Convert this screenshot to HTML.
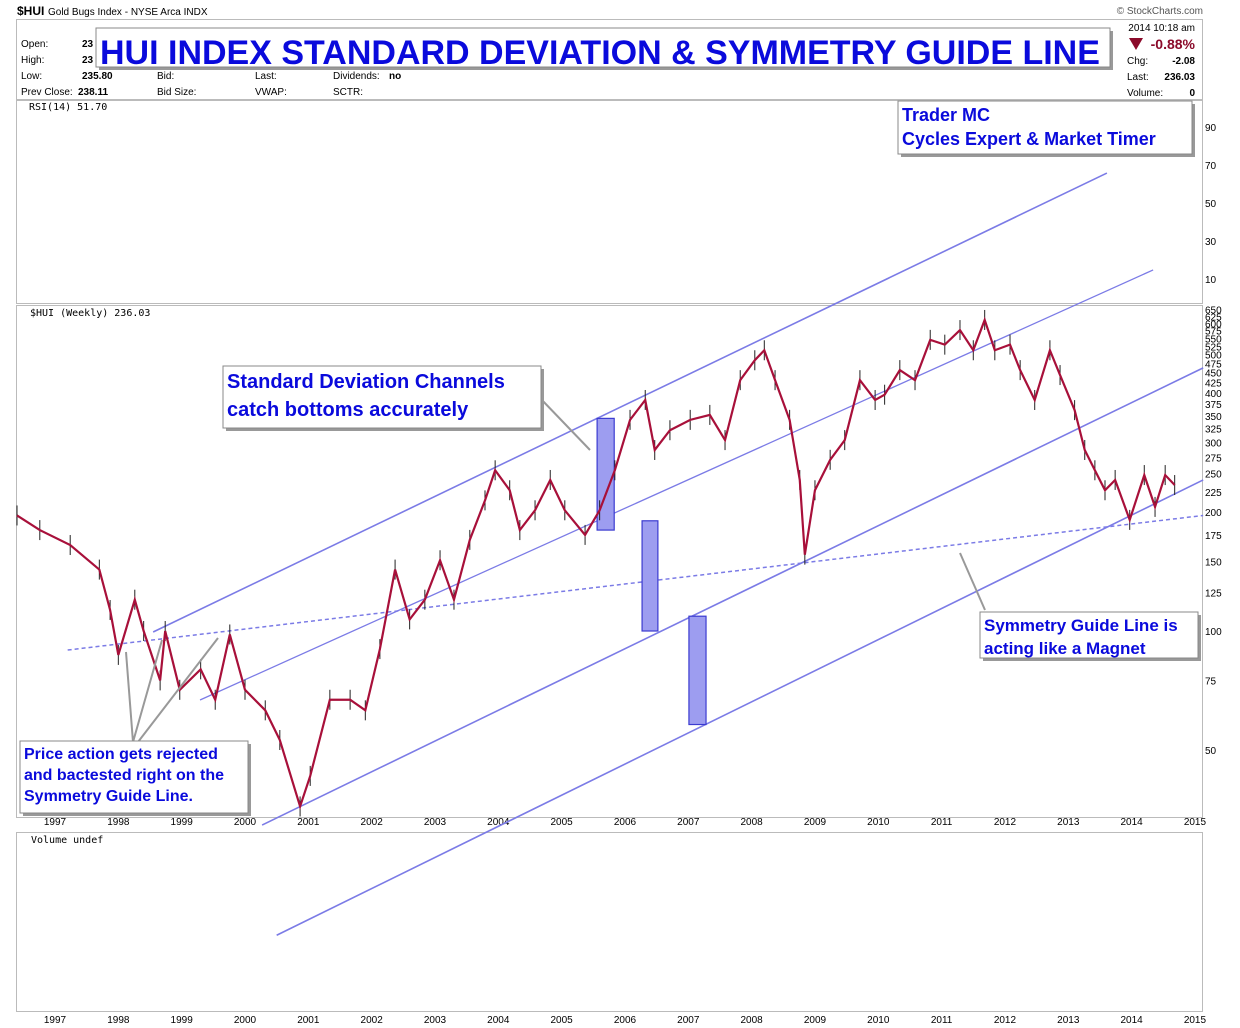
<!DOCTYPE html>
<html><head><meta charset="utf-8">
<style>
body{margin:0;background:#fff;font-family:"Liberation Sans",sans-serif;}
#wrap{position:relative;width:1240px;height:1028px;overflow:hidden;background:#fff;}
svg{position:absolute;left:0;top:0;}
.t{font-family:"Liberation Sans",sans-serif;}
</style></head>
<body>
<div id="wrap">
<svg id="chart" width="1240" height="1028" viewBox="0 0 1240 1028">
  <text x="17" y="15" font-size="12" font-weight="bold" class="t">$HUI</text>
  <text x="48" y="15" font-size="10" class="t">Gold Bugs Index - NYSE Arca INDX</text>
  <text x="1203" y="14" font-size="10" fill="#555" text-anchor="end" class="t">© StockCharts.com</text>
  <rect x="16.5" y="19.5" width="1186" height="80" fill="none" stroke="#bbb"/>
  <g font-size="10" class="t">
    <text x="21" y="47">Open:</text><text x="82" y="47" font-weight="bold">23</text>
    <text x="21" y="63">High:</text><text x="82" y="63" font-weight="bold">23</text>
    <text x="21" y="79">Low:</text><text x="82" y="79" font-weight="bold">235.80</text>
    <text x="21" y="95">Prev Close:</text><text x="78" y="95" font-weight="bold">238.11</text>
    <text x="157" y="79">Bid:</text><text x="157" y="95">Bid Size:</text>
    <text x="255" y="79">Last:</text><text x="255" y="95">VWAP:</text>
    <text x="333" y="79">Dividends:</text><text x="389" y="79" font-weight="bold">no</text>
    <text x="333" y="95">SCTR:</text>
    <text x="1195" y="31" text-anchor="end">2014  10:18 am</text>
    <text x="1195" y="64" text-anchor="end" font-weight="bold">-2.08</text><text x="1127" y="64">Chg:</text>
    <text x="1195" y="80" text-anchor="end" font-weight="bold">236.03</text><text x="1127" y="80">Last:</text>
    <text x="1195" y="96" text-anchor="end" font-weight="bold">0</text><text x="1127" y="96">Volume:</text>
  </g>
  <polygon points="1129,38 1143,38 1136,50" fill="#8b0a2a"/>
  <text x="1195" y="49" font-size="14" font-weight="bold" fill="#8b0a2a" text-anchor="end" class="t">-0.88%</text>

  <rect x="16.5" y="100.5" width="1186" height="203" fill="none" stroke="#bbb"/>
  <rect x="16.5" y="305.5" width="1186" height="512" fill="none" stroke="#bbb"/>
  <rect x="16.5" y="832.5" width="1186" height="179" fill="none" stroke="#bbb"/>
  <text x="29" y="110" font-size="10" font-family="DejaVu Sans Mono, monospace">RSI(14) 51.70</text>
  <text x="30" y="316" font-size="10" font-family="DejaVu Sans Mono, monospace">$HUI (Weekly) 236.03</text>
  <text x="31" y="843" font-size="10" font-family="DejaVu Sans Mono, monospace">Volume undef</text>
  <g id="axes"></g>
  <g id="lines"></g>
  <g id="price"></g>
  <g id="annot"></g>
</svg>
</div>
<script>
const years = [1997,1998,1999,2000,2001,2002,2003,2004,2005,2006,2007,2008,2009,2010,2011,2012,2013,2014,2015];
const priceTicks = [50,75,100,125,150,175,200,225,250,275,300,325,350,375,400,425,450,475,500,525,550,575,600,625,650];
const rsiTicks = [90,70,50,30,10];
const priceDates = [1996.4,1996.76,1997.24,1997.7,1997.87,1998.0,1998.26,1998.4,1998.66,1998.74,1998.97,1999.3,1999.53,1999.76,2000.0,2000.32,2000.55,2000.87,2001.03,2001.34,2001.66,2001.9,2002.13,2002.37,2002.6,2002.84,2003.08,2003.3,2003.55,2003.79,2003.95,2004.18,2004.34,2004.58,2004.82,2005.05,2005.37,2005.6,2005.84,2006.08,2006.32,2006.47,2006.71,2007.03,2007.34,2007.58,2007.82,2008.05,2008.2,2008.37,2008.6,2008.76,2008.84,2009.0,2009.24,2009.47,2009.71,2009.95,2010.1,2010.34,2010.58,2010.82,2011.05,2011.29,2011.5,2011.68,2011.84,2012.08,2012.24,2012.47,2012.71,2012.87,2013.1,2013.26,2013.42,2013.58,2013.74,2013.97,2014.2,2014.37,2014.53,2014.68];
const priceCloses = [196,180,165,143,113,87,120,100,75,100,71,80,67,98,71,63,53,36,43,67,67,63,90,143,107,120,151,120,170,214,255,227,180,202,241,202,175,202,255,342,384,287,322,342,352,304,431,484,513,431,342,241,156,227,271,304,431,384,396,457,431,545,530,577,513,612,513,530,457,384,513,444,362,287,255,227,241,191,248,206,248,234];
const channelUpper = [1998.55,99.4,2013.61,1440];
const channelMid = [1999.29,66.9,2014.34,819];
const channelLow = [2000.27,32.3,2015.13,463];
const channelBottom = [2000.5,17.0,2015.13,241];
const symmetryLine = [1997.2,89.5,2015.13,196];
const box1 = [2005.56,2005.83,345,180];
const box2 = [2006.27,2006.52,190,100];
const box3 = [2007.01,2007.28,109,58];

const NS='http://www.w3.org/2000/svg';
const X = y => 55 + (y-1997)*63.33;
const Y = p => 631 - 171.7*Math.log(p/100);
const RY = v => 203 - (v-50)*1.9;
function mk(tag, attrs, parent){const e=document.createElementNS(NS,tag);for(const k in attrs)e.setAttribute(k,attrs[k]);parent.appendChild(e);return e;}
const axes=document.getElementById('axes'), lines=document.getElementById('lines'), price=document.getElementById('price'), annot=document.getElementById('annot');

years.forEach(yr=>{
  [825,1023].forEach(ty=>{
    const t=mk('text',{x:X(yr),y:ty,'font-size':10,'text-anchor':'middle',class:'t'},axes);
    t.textContent=yr;
    
    
  });
});
priceTicks.forEach(p=>{
  const t=mk('text',{x:1205,y:Y(p)+4,'font-size':10,class:'t'},axes);
  t.textContent=p;
  
  
});
rsiTicks.forEach(v=>{
  const t=mk('text',{x:1205,y:RY(v)+4,'font-size':10,class:'t'},axes);
  t.textContent=v;
  
  
});

function chan(a,name,dash,w){
  const l=mk('line',{x1:X(a[0]),y1:Y(a[1]),x2:X(a[2]),y2:Y(a[3]),stroke:'#7b7be6','stroke-width':w||1.6},lines);
  if(dash) l.setAttribute('stroke-dasharray','4,3');
  
  
}
chan(channelUpper,'channel-upper-line');
chan(channelMid,'channel-middle-line',false,1.3);
chan(channelLow,'channel-lower-line');
chan(channelBottom,'channel-bottom-line');
chan(symmetryLine,'symmetry-guide-line',true,1.5);

[box1,box2,box3].forEach((b,i)=>{
  const r=mk('rect',{x:X(b[0]),y:Y(b[2]),width:X(b[1])-X(b[0]),height:Y(b[3])-Y(b[2]),fill:'#9d9df0',stroke:'#3b3bd0','stroke-width':1.2},lines);
  
  
});

priceDates.forEach((d,i)=>{
  const y=Y(priceCloses[i]);
  const b=mk('line',{x1:X(d),x2:X(d),y1:y-10,y2:y+10,stroke:'#222','stroke-width':1},price);
  
  
});
const pl=mk('polyline',{points:priceDates.map((d,i)=>X(d)+','+Y(priceCloses[i])).join(' '),fill:'none',stroke:'#a8103a','stroke-width':2.2},price);



function callout(x,y,w,h,lines_,fs,name,lh){
  mk('rect',{x:x+3,y:y+3,width:w,height:h,fill:'#999'},annot);
  const r=mk('rect',{x:x,y:y,width:w,height:h,fill:'#fff',stroke:'#888'},annot);
  
  
  lines_.forEach((s,i)=>{
    const t=mk('text',{x:x+4,y:y+fs+2+i*lh,'font-size':fs,'font-weight':'bold',fill:'#0a0adc',class:'t'},annot);
    t.textContent=s;
    
    
  });
}
function ptr(pts){
  const p=mk('polyline',{points:pts,fill:'none',stroke:'#999','stroke-width':2},annot);
  
  
}
ptr('126,652 133,742 162,640');
ptr('138,742 218,638');
ptr('540,398 590,450');
ptr('985,610 960,553');
callout(96,28,1014,39,['HUI INDEX STANDARD DEVIATION & SYMMETRY GUIDE LINE'],34,'chart-title',0);
callout(898,101,294,53,['Trader MC','Cycles Expert & Market Timer'],18,'author-box',24);
callout(223,366,318,62,['Standard Deviation Channels','catch bottoms accurately'],20,'std-dev-callout',28);
callout(980,612,218,46,['Symmetry Guide Line is','acting like a Magnet'],17,'symmetry-callout',23);
callout(20,741,228,72,['Price action gets rejected','and bactested right on the','Symmetry Guide Line.'],16,'price-action-callout',21);
</script>
</body></html>
